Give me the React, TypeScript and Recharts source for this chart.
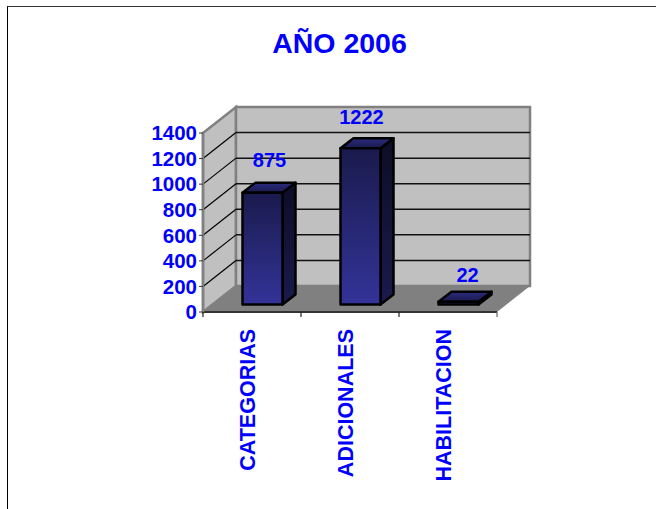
import {
  BarChart,
  Bar,
  XAxis,
  YAxis,
  CartesianGrid,
  LabelList,
} from "recharts";

const categories = ["CATEGORIAS", "ADICIONALES", "HABILITACION"];
const values = [875, 1222, 22];
const yTicks = [0, 200, 400, 600, 800, 1000, 1200, 1400];

const data = categories.map((name, i) => ({ name, value: values[i] }));

const WIDTH = 656;
const HEIGHT = 509;
const FONT = "'Liberation Sans', Arial, sans-serif";
const BLUE = "#0000ff";

// front plane of the fake 3d box
const LEFT = 203;
const RIGHT = 497;
const TOP = 133;
const BOTTOM = 312;
const BAND = (RIGHT - LEFT) / categories.length;

// how far the back wall sits from the front plane
const WALL_DX = 33;
const WALL_DY = -26;

// bars stand in the middle of the floor
const BAR_SHIFT_X = 10.5;
const BAR_SHIFT_Y = -7.5;
const BAR_DX = 13;
const BAR_DY = -10;
const labelNudgeX = [7, 1, 9];
const labelNudgeY = [-33, -32, -27];

function pts(list: number[][]) {
  return list.map((p) => p.join(",")).join(" ");
}

function Bar3D(props: any) {
  const x = props.x + BAR_SHIFT_X;
  const y = props.y + BAR_SHIFT_Y;
  const w = props.width;
  const h = props.height;
  const stroke = { stroke: "#000", strokeWidth: 2.5, strokeLinejoin: "round" as const };
  return (
    <g>
      <polygon
        points={pts([[x + w, y], [x + w + BAR_DX, y + BAR_DY], [x + w + BAR_DX, y + h + BAR_DY], [x + w, y + h]])}
        fill="url(#sideFill)"
        {...stroke}
      />
      <polygon
        points={pts([[x, y], [x + BAR_DX, y + BAR_DY], [x + w + BAR_DX, y + BAR_DY], [x + w, y]])}
        fill="url(#topFill)"
        {...stroke}
      />
      <rect x={x} y={y} width={w} height={h} fill="url(#frontFill)" {...stroke} />
    </g>
  );
}

function GridLine(props: any) {
  const { y1 } = props;
  // the top and bottom edges belong to the wall outline
  if (y1 <= TOP || y1 >= BOTTOM) return <g />;
  return (
    <g>
      <line x1={LEFT} y1={y1} x2={LEFT + WALL_DX} y2={y1 + WALL_DY} stroke="#000" strokeWidth={1.2} />
      <line x1={LEFT + WALL_DX} y1={y1 + WALL_DY} x2={RIGHT + WALL_DX} y2={y1 + WALL_DY} stroke="#111" strokeWidth={1.5} />
    </g>
  );
}

function CategoryTick(props: any) {
  const { x, index, payload } = props;
  const left = x - BAND / 2;
  return (
    <g>
      <line x1={left} y1={BOTTOM} x2={left} y2={BOTTOM + 5} stroke="#222" strokeWidth={1.2} />
      {index === categories.length - 1 && (
        <line x1={left + BAND} y1={BOTTOM} x2={left + BAND} y2={BOTTOM + 5} stroke="#666" strokeWidth={1.2} />
      )}
      <text
        x={x - 4}
        y={329}
        transform={`rotate(-90 ${x - 4} 329)`}
        textAnchor="end"
        dominantBaseline="central"
        fontFamily={FONT}
        fontWeight="bold"
        fontSize={21.5}
        fill={BLUE}
      >
        {payload.value}
      </text>
    </g>
  );
}

function ValueLabel(props: any) {
  const { x, y, width, value, index } = props;
  return (
    <text
      x={x + BAR_SHIFT_X + width / 2 + labelNudgeX[index]}
      y={y + labelNudgeY[index]}
      textAnchor="middle"
      fontFamily={FONT}
      fontWeight="bold"
      fontSize={20}
      fill={BLUE}
    >
      {value}
    </text>
  );
}

export default function App() {
  return (
    <div style={{ position: "absolute", left: 0, top: 0, width: WIDTH, height: HEIGHT, background: "#fff", overflow: "hidden" }}>
      {/* page frame, only the top and left edges show in the crop */}
      <div style={{ position: "absolute", left: 7, top: 6, right: 0, bottom: 0, borderTop: "1px solid #333", borderLeft: "1px solid #000" }} />
      <svg width={WIDTH} height={HEIGHT} style={{ position: "absolute", left: 0, top: 0 }}>
        <polygon
          points={pts([[LEFT, TOP], [LEFT + WALL_DX, TOP + WALL_DY], [LEFT + WALL_DX, BOTTOM + WALL_DY], [LEFT, BOTTOM]])}
          fill="#c0c0c0"
          stroke="#808080"
          strokeWidth={2.5}
        />
        <polygon
          points={pts([[LEFT + WALL_DX, TOP + WALL_DY], [RIGHT + WALL_DX, TOP + WALL_DY], [RIGHT + WALL_DX, BOTTOM + WALL_DY], [LEFT + WALL_DX, BOTTOM + WALL_DY]])}
          fill="#c0c0c0"
          stroke="#808080"
          strokeWidth={2.5}
        />
        <polygon
          points={pts([[LEFT, BOTTOM], [RIGHT, BOTTOM], [RIGHT + WALL_DX, BOTTOM + WALL_DY], [LEFT + WALL_DX, BOTTOM + WALL_DY]])}
          fill="#808080"
        />
      </svg>
      <div style={{ position: "absolute", left: 0, top: 0 }}>
        <BarChart
          width={WIDTH}
          height={HEIGHT}
          data={data}
          barSize={40}
          margin={{ top: TOP, right: WIDTH - RIGHT, bottom: HEIGHT - BOTTOM - 160, left: LEFT - 80 }}
        >
          <defs>
            <linearGradient id="frontFill" x1="0" y1="0" x2="0" y2="1">
              <stop offset="0%" stopColor="#1a1a4d" />
              <stop offset="100%" stopColor="#333399" />
            </linearGradient>
            <linearGradient id="sideFill" x1="0" y1="0" x2="0" y2="1">
              <stop offset="0%" stopColor="#0d0d26" />
              <stop offset="100%" stopColor="#1a1a4d" />
            </linearGradient>
            <linearGradient id="topFill" x1="0" y1="1" x2="0" y2="0">
              <stop offset="0%" stopColor="#1a1a4d" />
              <stop offset="100%" stopColor="#2b2b80" />
            </linearGradient>
          </defs>
          <text
            x={339.5}
            y={53}
            textAnchor="middle"
            fontFamily={FONT}
            fontWeight="bold"
            fontSize={28.5}
            fill={BLUE}
          >
            AÑO 2006
          </text>
          <CartesianGrid vertical={false} horizontal={GridLine} />
          <XAxis
            dataKey="name"
            interval={0}
            height={160}
            tickLine={false}
            axisLine={{ stroke: "#333", strokeWidth: 2 }}
            tick={CategoryTick}
          />
          <YAxis
            width={80}
            domain={[0, 1400]}
            ticks={yTicks}
            interval={0}
            tickSize={4}
            tickMargin={2}
            tickLine={{ stroke: "#333" }}
            axisLine={{ stroke: "#808080", strokeWidth: 2.5 }}
            tick={{ fill: BLUE, fontFamily: FONT, fontWeight: "bold", fontSize: 20.5 }}
          />
          <Bar dataKey="value" shape={Bar3D} isAnimationActive={false}>
            <LabelList dataKey="value" content={ValueLabel} />
          </Bar>
        </BarChart>
      </div>
    </div>
  );
}
